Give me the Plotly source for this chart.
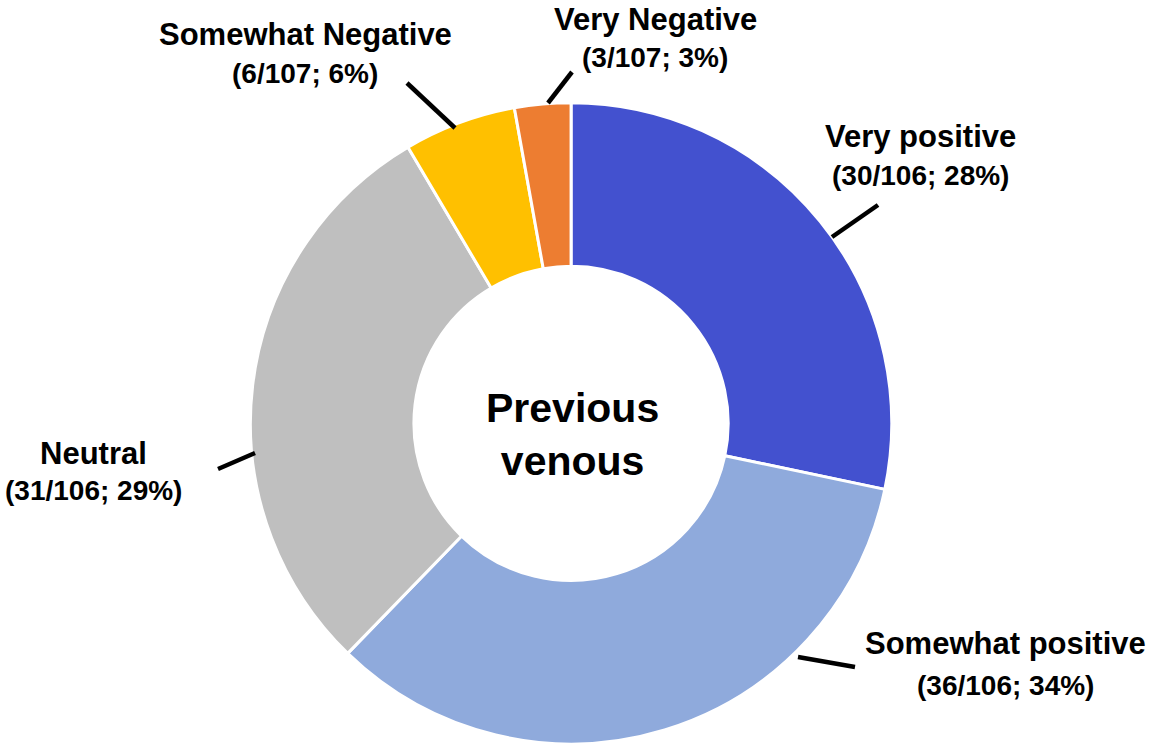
import plotly.graph_objects as go

# ---- data ----
categories = ["Very positive", "Somewhat positive", "Neutral", "Somewhat Negative", "Very Negative"]
counts = [30, 36, 31, 6, 3]
denominators = [106, 106, 106, 107, 107]
percents = [28, 34, 29, 6, 3]
center_title = "Previous<br>venous"

# ---- styles ----
colors = ["#4351CF", "#8FAADC", "#BFBFBF", "#FFC000", "#ED7D31"]
FONT = "Arial, Liberation Sans, sans-serif"
W, H = 1156, 744

# label placement (pixel positions, converted to paper coords)
label_pos = [(920, 137, 175), (1005, 643, 685), (93, 453, 490), (305, 35, 73), (655, 20, 57)]
leader_lines = [((832, 237), (878, 205)), ((798, 657), (855, 667)), ((218, 469), (255, 453)),
                ((407, 83), (455, 128)), ((548, 103), (572, 72))]


def px(x):
    return x / W


def py(y):
    return 1 - y / H


fig = go.Figure(go.Pie(
    labels=categories,
    values=counts,
    sort=False,
    direction="clockwise",
    rotation=0,
    hole=0.49,
    marker=dict(colors=colors, line=dict(color="white", width=3)),
    textinfo="none",
    hoverinfo="label+value+percent",
    domain=dict(x=[0.216, 0.772], y=[0.0, 0.862]),
    showlegend=False,
))

annotations = []
for cat, c, d, p, (x, y1, y2) in zip(categories, counts, denominators, percents, label_pos):
    annotations.append(dict(x=px(x), y=py(y1), xref="paper", yref="paper", text=f"<b>{cat}</b>",
                            showarrow=False, xanchor="center", yanchor="middle",
                            font=dict(family=FONT, size=31, color="black")))
    annotations.append(dict(x=px(x), y=py(y2), xref="paper", yref="paper", text=f"<b>({c}/{d}; {p}%)</b>",
                            showarrow=False, xanchor="center", yanchor="middle",
                            font=dict(family=FONT, size=28, color="black")))

annotations.append(dict(x=px(572), y=py(434), xref="paper", yref="paper", text=f"<b>{center_title}</b>",
                        showarrow=False, xanchor="center", yanchor="middle",
                        font=dict(family=FONT, size=41, color="black")))

shapes = []
for (a, b) in leader_lines:
    shapes.append(dict(type="line", xref="paper", yref="paper", x0=px(a[0]), y0=py(a[1]),
                       x1=px(b[0]), y1=py(b[1]), line=dict(color="black", width=4.5)))

fig.update_layout(
    width=W, height=H,
    margin=dict(l=0, r=0, t=0, b=0),
    paper_bgcolor="white", plot_bgcolor="white",
    annotations=annotations,
    shapes=shapes,
)

fig.write_html("out.html")
